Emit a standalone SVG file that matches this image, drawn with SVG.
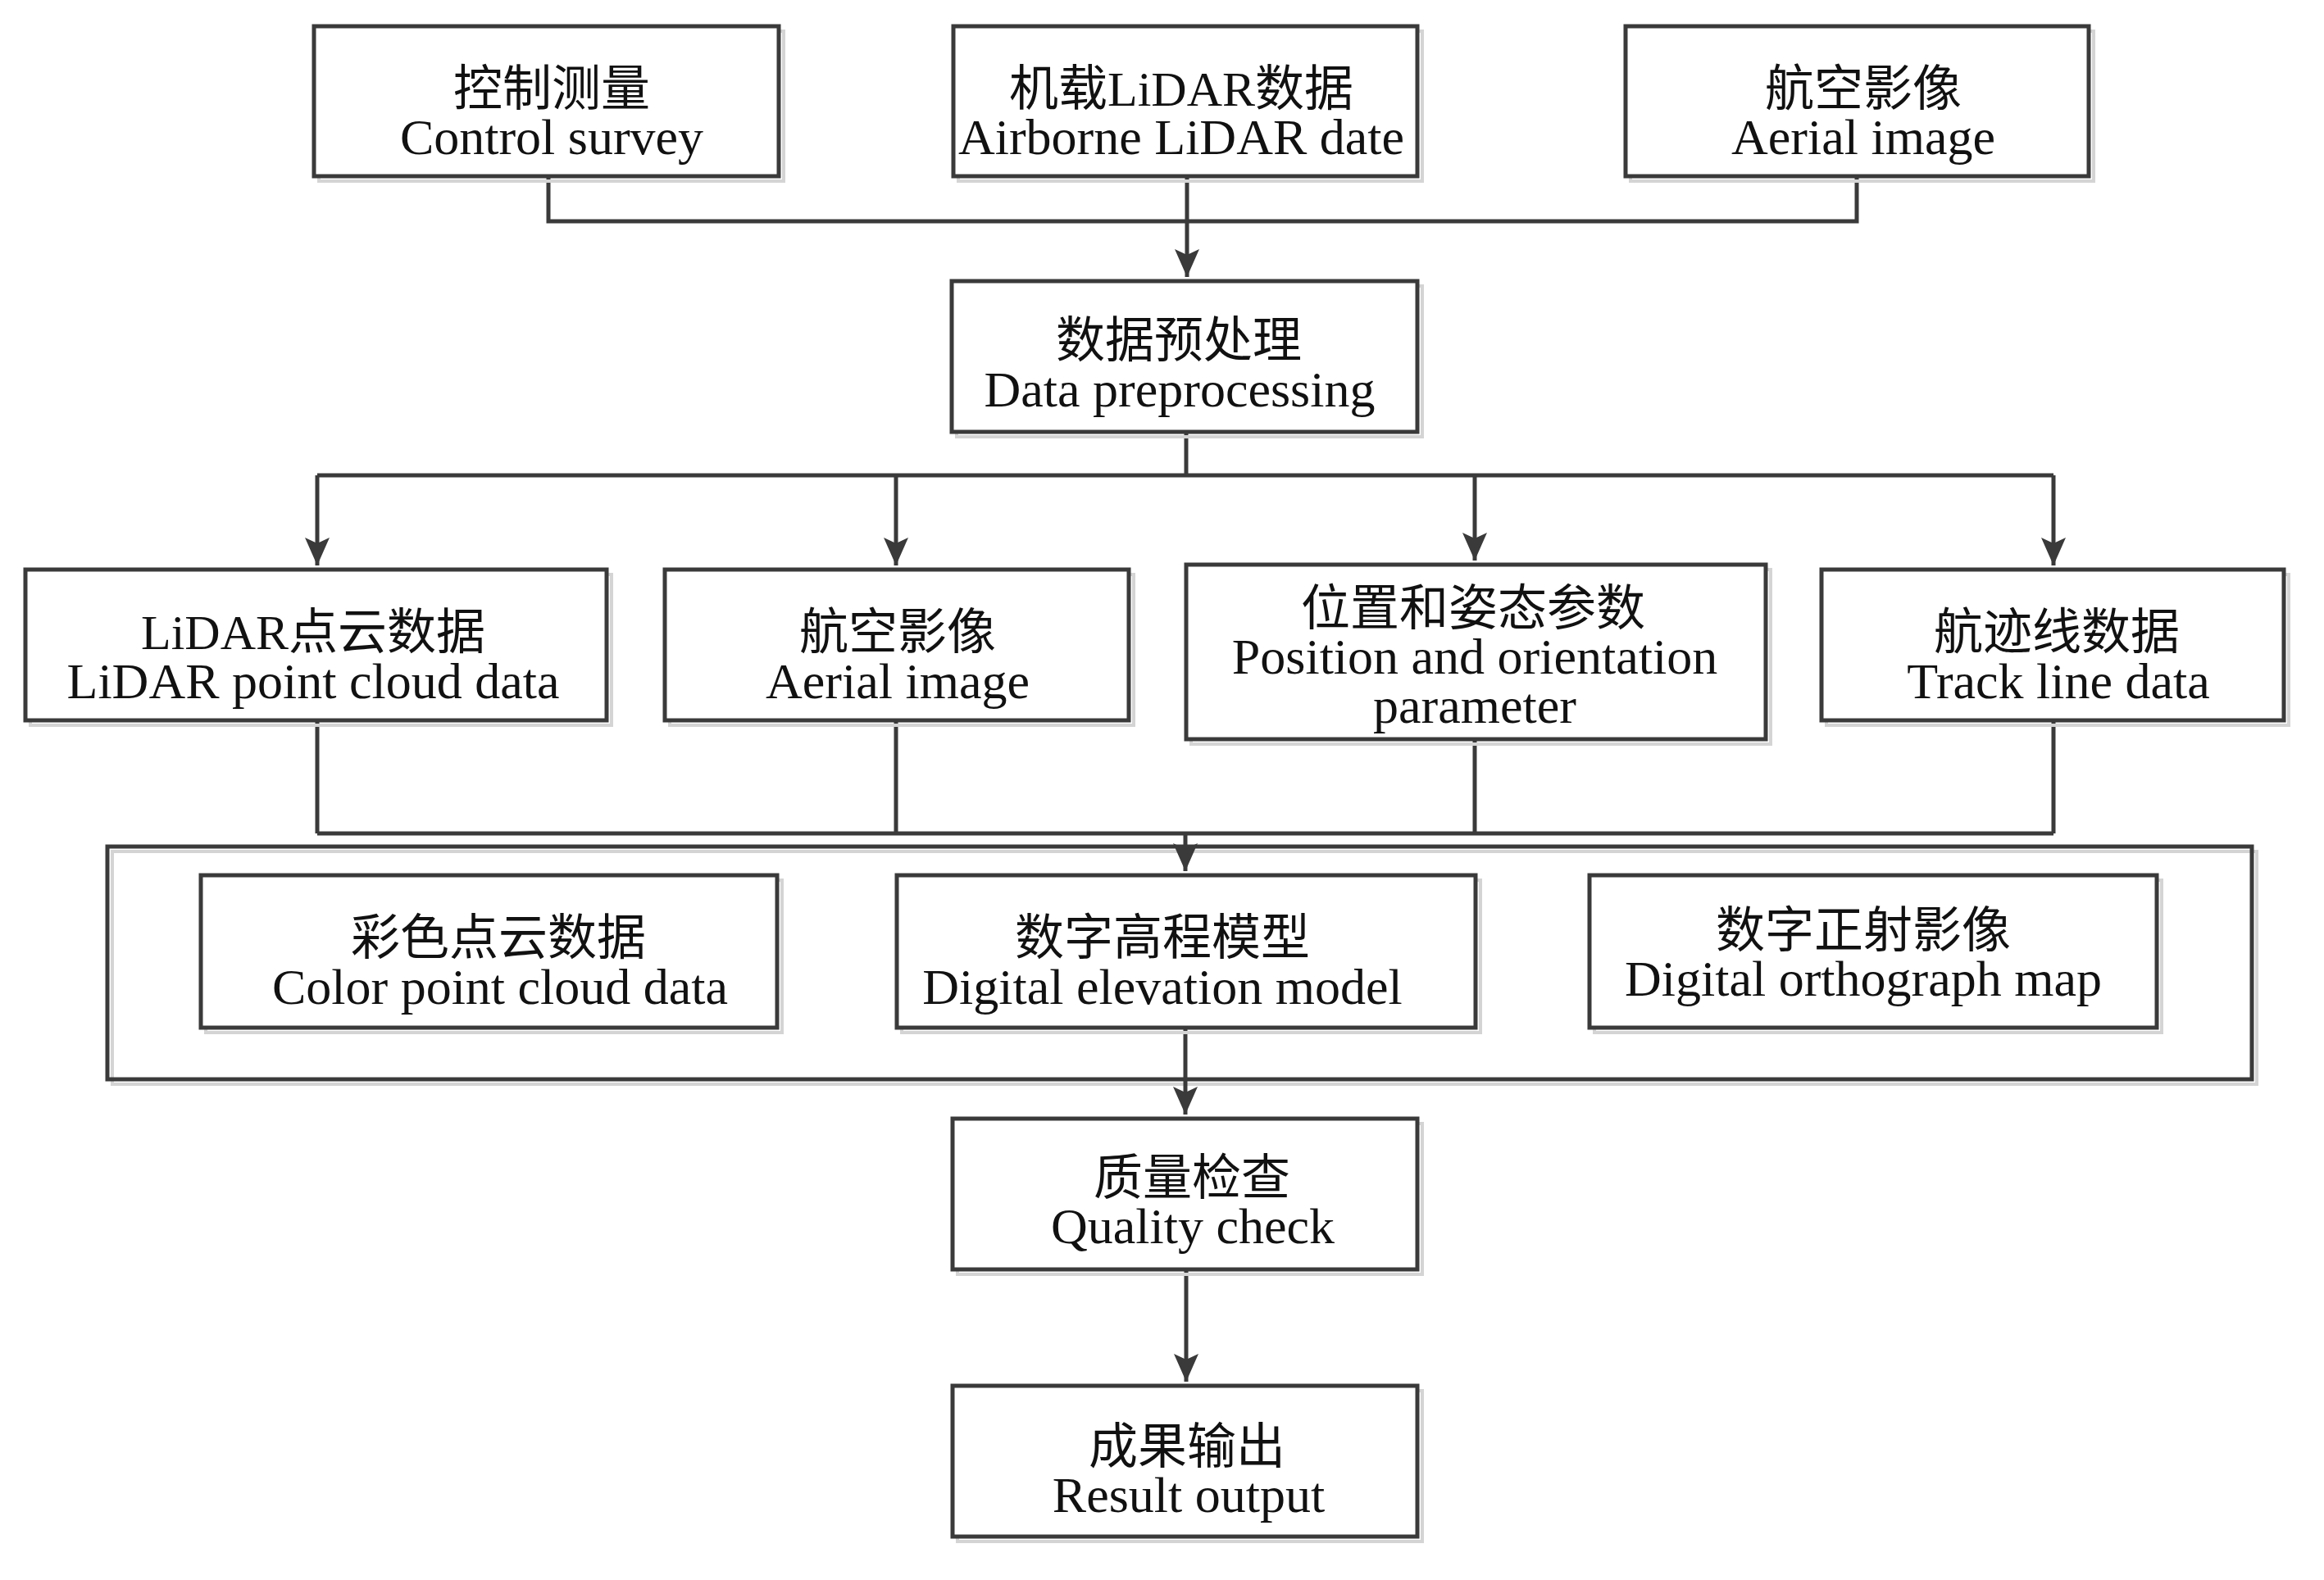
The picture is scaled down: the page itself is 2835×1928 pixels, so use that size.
<svg xmlns="http://www.w3.org/2000/svg" width="2835" height="1928" viewBox="0 0 2835 1928">
<style>
.box{fill:#fff;stroke:#3a3a3a;stroke-width:5}
.sh{fill:none;stroke:#d4d4d4;stroke-width:4}
.ln{fill:none;stroke:#3a3a3a;stroke-width:5}
.t{font-family:"Liberation Serif","Noto Sans CJK SC",serif;font-size:62px;fill:#111;text-anchor:middle}
.zh{font-family:"Liberation Serif","Noto Sans CJK SC",serif;font-size:60px;fill:#111;text-anchor:middle}
</style>
<defs>
<marker id="arr" markerUnits="userSpaceOnUse" markerWidth="40" markerHeight="40" refX="0" refY="0" viewBox="-20 -36 40 40" orient="auto-start-reverse" overflow="visible">
<path d="M0,0 L-15,-34 L0,-27 L15,-34 Z" fill="#3a3a3a" transform="rotate(-90)"/>
</marker>
</defs>
<rect width="2835" height="1928" fill="#fff"/>

<g id="container">
<rect class="sh" x="137" y="1039" width="2616" height="284"/>
<rect class="box" x="131" y="1033" width="2616" height="284" style="fill:none"/>
</g>

<g id="connectors">
<path class="ln" d="M669,215 V270 H2265 V215"/>
<path class="ln" d="M1448,215 V338" marker-end="url(#arr)"/>
<path class="ln" d="M1447,527 V580"/>
<path class="ln" d="M387,580 H2505"/>
<path class="ln" d="M387,580 V690" marker-end="url(#arr)"/>
<path class="ln" d="M1093,580 V690" marker-end="url(#arr)"/>
<path class="ln" d="M1799,580 V684" marker-end="url(#arr)"/>
<path class="ln" d="M2505,580 V690" marker-end="url(#arr)"/>
<path class="ln" d="M387,879 V1017"/>
<path class="ln" d="M1093,879 V1017"/>
<path class="ln" d="M1799,902 V1017"/>
<path class="ln" d="M2505,879 V1017"/>
<path class="ln" d="M387,1017 H2505"/>
<path class="ln" d="M1446,1017 V1063" marker-end="url(#arr)"/>
<path class="ln" d="M1446,1254 V1360" marker-end="url(#arr)"/>
<path class="ln" d="M1447,1549 V1686" marker-end="url(#arr)"/>
</g>

<g id="n-control">
<rect class="sh" x="389" y="38" width="567" height="183"/>
<rect class="box" x="383" y="32" width="567" height="183"/>
<text class="zh" x="673" y="129">控制测量</text>
<text class="t" x="673" y="188">Control survey</text>
</g>
<g id="n-airborne">
<rect class="sh" x="1169" y="38" width="566" height="183"/>
<rect class="box" x="1163" y="32" width="566" height="183"/>
<text class="zh" x="1441" y="129">机载LiDAR数据</text>
<text class="t" x="1441" y="188">Airborne LiDAR date</text>
</g>
<g id="n-aerial-top">
<rect class="sh" x="1989" y="38" width="565" height="183"/>
<rect class="box" x="1983" y="32" width="565" height="183"/>
<text class="zh" x="2273" y="129">航空影像</text>
<text class="t" x="2273" y="188">Aerial image</text>
</g>
<g id="n-preproc">
<rect class="sh" x="1167" y="349" width="568" height="184"/>
<rect class="box" x="1161" y="343" width="568" height="184"/>
<text class="zh" x="1438" y="436">数据预处理</text>
<text class="t" x="1439" y="496">Data preprocessing</text>
</g>
<g id="n-lidar">
<rect class="sh" x="37" y="701" width="709" height="184"/>
<rect class="box" x="31" y="695" width="709" height="184"/>
<text class="zh" x="382" y="792">LiDAR点云数据</text>
<text class="t" x="382" y="852">LiDAR point cloud data</text>
</g>
<g id="n-aerial">
<rect class="sh" x="817" y="701" width="566" height="184"/>
<rect class="box" x="811" y="695" width="566" height="184"/>
<text class="zh" x="1095" y="792">航空影像</text>
<text class="t" x="1095" y="852">Aerial image</text>
</g>
<g id="n-pos">
<rect class="sh" x="1453" y="695" width="707" height="213"/>
<rect class="box" x="1447" y="689" width="707" height="213"/>
<text class="zh" x="1797" y="763">位置和姿态参数</text>
<text class="t" x="1799" y="822">Position and orientation</text>
<text class="t" x="1799" y="882">parameter</text>
</g>
<g id="n-track">
<rect class="sh" x="2228" y="701" width="564" height="184"/>
<rect class="box" x="2222" y="695" width="564" height="184"/>
<text class="zh" x="2509" y="792">航迹线数据</text>
<text class="t" x="2511" y="852">Track line data</text>
</g>
<g id="n-color">
<rect class="sh" x="251" y="1074" width="703" height="186"/>
<rect class="box" x="245" y="1068" width="703" height="186"/>
<text class="zh" x="608" y="1165">彩色点云数据</text>
<text class="t" x="610" y="1225">Color point cloud data</text>
</g>
<g id="n-dem">
<rect class="sh" x="1100" y="1074" width="706" height="186"/>
<rect class="box" x="1094" y="1068" width="706" height="186"/>
<text class="zh" x="1418" y="1165">数字高程模型</text>
<text class="t" x="1418" y="1225">Digital elevation model</text>
</g>
<g id="n-dom">
<rect class="sh" x="1945" y="1074" width="692" height="186"/>
<rect class="box" x="1939" y="1068" width="692" height="186"/>
<text class="zh" x="2273" y="1156">数字正射影像</text>
<text class="t" x="2273" y="1215">Digital orthograph map</text>
</g>
<g id="n-quality">
<rect class="sh" x="1168" y="1371" width="567" height="184"/>
<rect class="box" x="1162" y="1365" width="567" height="184"/>
<text class="zh" x="1454" y="1458">质量检查</text>
<text class="t" x="1455" y="1517">Quality check</text>
</g>
<g id="n-result">
<rect class="sh" x="1168" y="1697" width="567" height="184"/>
<rect class="box" x="1162" y="1691" width="567" height="184"/>
<text class="zh" x="1448" y="1786">成果输出</text>
<text class="t" x="1450" y="1845">Result output</text>
</g>
</svg>
